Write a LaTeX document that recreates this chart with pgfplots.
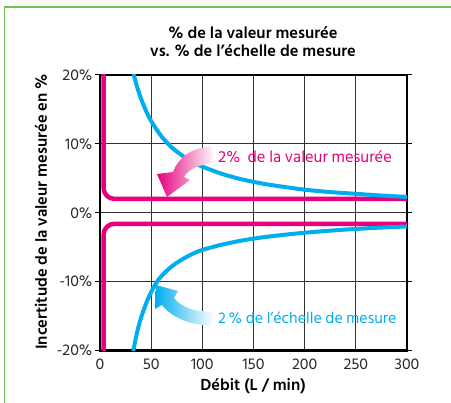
\documentclass[border=0pt]{standalone}
\usepackage{fontspec}
\setmainfont{Hind Siliguri}
\usepackage{pgfplots}
\pgfplotsset{compat=1.18}
\definecolor{mag}{RGB}{230,0,126}
\definecolor{cyb}{RGB}{0,174,239}
\definecolor{framegreen}{RGB}{110,195,80}
\begin{document}
\begin{tikzpicture}
\useasboundingbox (0,0) rectangle (451bp,403bp);
\begin{axis}[
  at={(100bp,52.5bp)}, anchor=south west,
  width=307bp, height=275.5bp, scale only axis,
  xmin=0, xmax=300, ymin=-20, ymax=20,
  xtick={0,50,100,150,200,250,300}, xticklabels={0,50,100,150,200,250,300},
  ytick={-20,-10,0,10,20}, yticklabels={-20\%,-10\%,0\%,10\%,20\%},
  grid=major, major grid style={line width=1bp, black!80},
  axis line style={line width=2.2bp, black},
  tick align=outside, major tick length=5bp,
  ytick style={line width=1bp, black},
  xtick style={draw=none},
  tick label style={font=\fontsize{16}{18}\selectfont, text=black!85},
  yticklabel style={xshift=1bp},
]
% 2% of measured value
\addplot[mag, line width=4.5bp, rounded corners=11bp] coordinates {(3.5,21) (3.5,2.0) (301,2.0)};
\addplot[mag, line width=4.5bp, rounded corners=11bp] coordinates {(3.5,-21) (3.5,-1.6) (301,-1.6)};
% 2% of full scale
\addplot[cyb, line width=4bp, smooth] coordinates {
(32,20.6) (36,18.4) (40,16.6) (45,14.8) (50,13.3) (60,11.1) (70,9.5) (80,8.35) (90,7.4) (100,6.7)
(120,5.6) (140,4.8) (160,4.2) (180,3.75) (200,3.35) (225,3.0) (250,2.75) (275,2.5) (300,2.3)};
\addplot[cyb, line width=4bp, smooth] coordinates {
(32,-20.5) (36,-17.5) (40,-15.3) (45,-13.2) (50,-11.5) (55,-10.2) (60,-9.2) (70,-7.8) (80,-6.8) (90,-6.0) (100,-5.4)
(120,-4.6) (140,-4.0) (160,-3.55) (180,-3.2) (200,-2.9) (225,-2.6) (250,-2.35) (275,-2.15) (300,-2.0)};
\end{axis}
\begin{scope}[shift={(0,403bp)}, x=1bp, y=-1bp]
  \draw[framegreen, line width=1.2bp] (4.7,403) -- (4.7,7) -- (451,7);
  \node[font=\fontsize{16.5}{18}\bfseries\selectfont] at (253,33) {\% de la valeur mesurée};
  \node[font=\fontsize{16.5}{18}\bfseries\selectfont] at (253,51) {vs. \% de l’échelle de mesure};
  \node[font=\fontsize{16.5}{18}\bfseries\selectfont, rotate=90] at (41,212) {Incertitude de la valeur mesurée en \%};
  \node[font=\fontsize{16.5}{18}\bfseries\selectfont] at (253,386) {Débit (L / min)};
  \node[font=\fontsize{16.5}{18}\selectfont, text=mag, anchor=west, inner sep=0pt] at (218,157) {2\%\ \ de la valeur mesurée};
  \node[font=\fontsize{16}{18}\selectfont, text=cyb, anchor=west, inner sep=0pt] at (218,318) {2\,\% de l’échelle de mesure};
  % magenta curved arrow
  \shade[left color=mag, right color=white, shading angle=90]
    (211,147) .. controls (192,147) and (178,158) .. (173,172)
    -- (157,174) -- (167,197) -- (190,180) -- (184,177)
    .. controls (188,170) and (198,164) .. (215,163) -- cycle;
  % blue curved arrow
  \shade[left color=cyb, right color=white, shading angle=90]
    (214,311) .. controls (195,313) and (181,307) .. (174,298)
    -- (178,291) -- (156,285) -- (155,309) -- (162,305)
    .. controls (172,318) and (192,326) .. (212,325) -- cycle;
\end{scope}
\end{tikzpicture}
\end{document}
